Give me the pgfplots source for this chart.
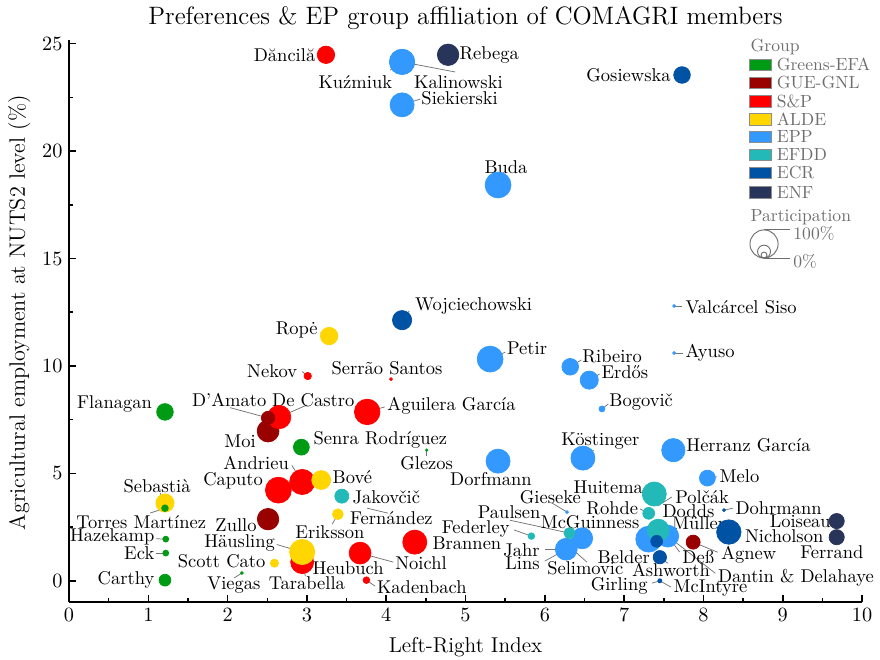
\documentclass[border=0pt]{standalone}
\usepackage{pgfplots}
\pgfplotsset{compat=1.18}

\definecolor{grn}{RGB}{0,155,20}
\definecolor{gue}{RGB}{153,0,0}
\definecolor{snp}{RGB}{255,0,0}
\definecolor{alde}{RGB}{255,214,0}
\definecolor{epp}{RGB}{51,153,255}
\definecolor{efdd}{RGB}{36,185,185}
\definecolor{ecr}{RGB}{0,82,165}
\definecolor{enf}{RGB}{40,52,90}
\definecolor{legtxt}{RGB}{110,110,110}

% name labels and leader lines, in data coordinates
\newcommand\lbl[4][center]{\node[anchor=#1,inner sep=0pt] at (axis cs:#2,#3) {#4};}
\newcommand\ldr[4]{\draw[black!55,line width=0.4pt] (axis cs:#1,#2) -- (axis cs:#3,#4);}
% legend text and one legend row: colour, text, y centre
\tikzset{legtext/.style={anchor=west,inner sep=0pt,text=legtxt,font=\fontsize{9.5}{11}\selectfont}}
\newcommand\legrow[3]{%
  \filldraw[fill=#1,draw=black!45,line width=0.3pt]
    (axis cs:8.575,#3-0.27) rectangle (axis cs:8.85,#3+0.27);
  \node[legtext] at (axis cs:8.92,#3) {#2};}

\begin{document}
\begin{tikzpicture}
\begin{axis}[scale only axis,width=428.6pt,height=303.8pt,
  xmin=0,xmax=10,ymin=-0.99,ymax=25.17,
  axis lines=left,axis line style={-,line width=0.9pt},
  tick align=inside,major tick length=3.8pt,minor tick length=2.2pt,
  every tick/.style={black,line width=0.8pt},
  xtick={0,...,10},ytick={0,5,...,25},minor x tick num=1,minor y tick num=1,
  tick label style={font=\fontsize{10.5}{12}\selectfont},
  clip=false]
\coordinate (bl) at (rel axis cs:0,0);
\coordinate (tr) at (rel axis cs:1,1);

% title and axis labels
\node[anchor=base,inner sep=0pt,font=\fontsize{13.6}{16}\selectfont]
  at ([yshift=8.6pt]rel axis cs:0.5,1) {Preferences \& EP group affiliation of COMAGRI members};
\node[anchor=base,inner sep=0pt,font=\fontsize{11.6}{14}\selectfont]
  at ([yshift=-27pt]rel axis cs:0.5,0) {Left-Right Index};
\node[anchor=base,rotate=90,inner sep=0pt,font=\fontsize{12}{14}\selectfont]
  at ([xshift=-23.8pt,yshift=4.5pt]rel axis cs:0,0.5) {Agricultural employment at NUTS2 level (\%)};

% leader lines first, bubbles drawn over them
\ldr{4.20}{24.15}{4.05}{23.77}
\ldr{4.20}{24.15}{4.87}{23.68}
\ldr{4.20}{22.15}{4.43}{22.42}
\ldr{5.41}{18.42}{5.50}{18.93}
\ldr{4.20}{12.13}{4.29}{12.56}
\ldr{3.28}{11.39}{3.17}{11.54}
\ldr{7.63}{12.79}{7.73}{12.79}
\ldr{7.63}{10.60}{7.74}{10.60}
\ldr{5.31}{10.32}{5.50}{10.64}
\ldr{6.32}{9.96}{6.46}{10.28}
\ldr{6.56}{9.34}{6.69}{9.62}
\ldr{6.72}{8.00}{6.80}{8.23}
\ldr{3.01}{9.53}{2.94}{9.74}
\ldr{2.51}{7.58}{2.03}{8.06}
\ldr{2.65}{7.62}{3.00}{8.18}
\ldr{3.76}{7.86}{3.98}{8.09}
\ldr{4.51}{6.08}{4.51}{5.80}
\ldr{6.48}{5.71}{6.62}{6.08}
\ldr{8.05}{4.78}{8.17}{4.84}
\ldr{2.94}{4.60}{2.81}{5.37}
\ldr{3.76}{3.38}{4.02}{3.15}
\ldr{3.39}{3.10}{3.32}{2.64}
\ldr{1.21}{3.62}{1.15}{4.08}
\ldr{1.21}{3.38}{1.02}{3.15}
\ldr{1.22}{1.94}{1.10}{1.96}
\ldr{1.22}{1.29}{1.10}{1.29}
\ldr{2.94}{1.34}{2.62}{1.69}
\ldr{2.18}{0.36}{2.08}{0.13}
\ldr{2.94}{0.87}{2.98}{0.22}
\ldr{3.67}{1.29}{4.09}{0.87}
\ldr{3.75}{0.03}{3.86}{-0.25}
\ldr{5.83}{2.08}{5.61}{2.37}
\ldr{6.31}{2.22}{5.56}{2.82}
\ldr{6.28}{3.20}{6.09}{3.62}
\ldr{6.27}{1.47}{6.00}{1.47}
\ldr{6.27}{1.47}{6.00}{0.92}
\ldr{6.40}{1.30}{6.53}{0.87}
\ldr{7.31}{3.14}{7.20}{3.35}
\ldr{7.43}{3.50}{7.60}{3.90}
\ldr{7.55}{2.08}{7.70}{1.34}
\ldr{7.45}{1.10}{7.55}{0.82}
\ldr{7.45}{0.00}{7.35}{-0.11}
\ldr{7.45}{0.00}{7.59}{-0.29}
\ldr{7.87}{1.80}{8.18}{1.33}
\ldr{7.55}{2.08}{8.15}{0.35}
\ldr{8.26}{3.29}{8.37}{3.38}
\ldr{9.68}{2.03}{9.66}{1.66}

\addplot[scatter,only marks,scatter src=explicit symbolic,
  scatter/classes={GRN={mark=*,grn},GUE={mark=*,gue},SP={mark=*,snp},
    ALDE={mark=*,alde},EPP={mark=*,epp},EFDD={mark=*,efdd},
    ECR={mark=*,ecr},ENF={mark=*,enf}},
  visualization depends on={\thisrow{r}\as\rad},
  scatter/@pre marker code/.append style={/tikz/mark size=\rad pt}]
table[x=x,y=y,meta=g]{
x y r g
5.41 18.42 7.0 EPP
5.31 10.32 7.0 EPP
2.64 4.22 7.0 SP
7.31 1.94 7.0 EPP
3.76 7.86 6.9 SP
4.20 24.15 6.8 EPP
4.20 24.15 6.8 EPP
2.94 4.60 6.8 SP
2.94 0.87 6.2 SP
2.94 1.34 6.8 ALDE
8.32 2.27 6.6 ECR
4.20 22.15 6.5 EPP
5.41 5.57 6.5 EPP
6.48 5.71 6.5 EPP
4.36 1.80 6.5 SP
7.38 4.04 6.5 EFDD
2.51 6.97 5.9 GUE
2.65 7.62 6.3 SP
7.62 6.08 6.3 EPP
6.27 1.47 5.9 EPP
7.55 2.08 5.9 EPP
3.67 1.29 5.9 SP
7.43 2.36 5.9 EFDD
4.78 24.48 5.8 ENF
2.51 2.87 5.8 GUE
6.47 1.98 5.7 EPP
4.20 12.13 5.2 ECR
3.18 4.69 5.1 ALDE
6.56 9.34 4.9 EPP
1.21 3.62 4.9 ALDE
3.24 24.48 4.7 SP
3.28 11.39 4.7 ALDE
7.73 23.54 4.5 ECR
6.32 9.96 4.5 EPP
1.21 7.86 4.5 GRN
2.93 6.22 4.3 GRN
8.05 4.78 4.3 EPP
9.68 2.78 4.1 ENF
9.68 2.03 4.1 ENF
3.44 3.94 3.8 EFDD
7.87 1.80 3.8 GUE
2.51 7.58 3.6 GUE
7.45 1.10 3.6 ECR
1.21 0.03 3.2 GRN
7.31 3.14 3.2 EFDD
7.41 1.84 3.2 ECR
6.31 2.22 3.0 EFDD
3.39 3.10 2.9 ALDE
2.59 0.82 2.2 ALDE
3.01 9.53 2.0 SP
1.21 3.38 1.8 GRN
3.75 0.03 1.8 SP
5.83 2.08 1.8 EFDD
6.72 8.00 1.6 EPP
1.22 1.94 1.6 GRN
1.22 1.29 1.6 GRN
7.45 0.00 1.1 ECR
7.63 12.79 0.8 EPP
7.63 10.60 0.8 EPP
4.06 9.39 0.8 SP
6.28 3.20 0.8 EPP
2.18 0.36 0.8 GRN
8.26 3.29 0.8 ECR
4.51 6.08 0.7 GRN
};

% names
\lbl[east]{3.11}{24.48}{Dăncilă}
\lbl[west]{4.92}{24.48}{Rebega}
\lbl{3.61}{23.22}{Kuźmiuk}
\lbl{4.91}{23.22}{Kalinowski}
\lbl[west]{4.44}{22.47}{Siekierski}
\lbl[east]{7.59}{23.54}{Gosiewska}
\lbl{5.51}{19.26}{Buda}
\lbl[west]{4.36}{12.78}{Wojciechowski}
\lbl[east]{3.14}{11.66}{Ropė}
\lbl[west]{7.77}{12.74}{Valcárcel Siso}
\lbl[west]{7.77}{10.60}{Ayuso}
\lbl[west]{5.52}{10.83}{Petir}
\lbl[west]{6.47}{10.46}{Ribeiro}
\lbl[west]{6.71}{9.72}{Erdős}
\lbl[west]{6.81}{8.32}{Bogovič}
\lbl[east]{2.88}{9.76}{Nekov}
\lbl{4.01}{9.90}{Serrão Santos}
\lbl[east]{1.05}{8.22}{Flanagan}
\lbl{2.02}{8.41}{D’Amato}
\lbl{3.08}{8.41}{De Castro}
\lbl[east]{2.36}{6.50}{Moi}
\lbl[west]{4.01}{8.13}{Aguilera García}
\lbl[west]{3.08}{6.55}{Senra Rodríguez}
\lbl{4.51}{5.48}{Glezos}
\lbl{5.32}{4.73}{Dorfmann}
\lbl{6.70}{6.50}{Köstinger}
\lbl[west]{7.78}{6.31}{Herranz García}
\lbl[west]{8.20}{4.87}{Melo}
\lbl{6.80}{4.36}{Huitema}
\lbl{2.36}{5.48}{Andrieu}
\lbl[east]{2.45}{4.67}{Caputo}
\lbl[west]{3.32}{4.83}{Bové}
\lbl[west]{3.57}{3.89}{Jakovčič}
\lbl[west]{3.54}{2.92}{Fernández}
\lbl{3.29}{2.26}{Eriksson}
\lbl{1.11}{4.41}{Sebastià}
\lbl{0.91}{2.73}{Torres Martínez}
\lbl[east]{1.08}{2.03}{Hazekamp}
\lbl[east]{1.08}{1.28}{Eck}
\lbl[east]{1.08}{0.03}{Carthy}
\lbl[east]{2.37}{2.59}{Zullo}
\lbl[east]{2.60}{1.75}{Häusling}
\lbl[east]{2.48}{0.92}{Scott Cato}
\lbl{2.08}{-0.20}{Viegas}
\lbl{3.00}{-0.11}{Tarabella}
\lbl{3.52}{0.59}{Heubuch}
\lbl[west]{4.11}{0.83}{Noichl}
\lbl[west]{3.88}{-0.29}{Kadenbach}
\lbl[west]{4.58}{1.75}{Brannen}
\lbl[east]{5.56}{2.41}{Federley}
\lbl{5.55}{3.19}{Paulsen}
\lbl{6.07}{3.89}{Gieseke}
\lbl{6.57}{2.73}{McGuinness}
\lbl[east]{5.94}{1.43}{Jahr}
\lbl[east]{5.94}{0.82}{Lins}
\lbl{6.51}{0.59}{Selimovic}
\lbl[east]{7.18}{3.38}{Rohde}
\lbl[west]{7.64}{3.90}{Polčák}
\lbl[west]{7.48}{3.24}{Dodds}
\lbl[west]{7.60}{2.69}{Müller}
\lbl[east]{7.33}{1.10}{Belder}
\lbl[west]{7.73}{1.10}{Deß}
\lbl{7.59}{0.50}{Ashworth}
\lbl[east]{7.30}{-0.25}{Girling}
\lbl[west]{7.62}{-0.34}{McIntyre}
\lbl[west]{8.22}{1.19}{Agnew}
\lbl[west]{8.18}{0.13}{Dantin \& Delahaye}
\lbl[west]{8.52}{2.08}{Nicholson}
\lbl[west]{8.40}{3.40}{Dohrmann}
\lbl[east]{9.61}{2.78}{Loiseau}
\lbl{9.62}{1.34}{Ferrand}

% legend
\node[legtext] at (axis cs:8.59,24.85) {Group};
\legrow{grn}{Greens-EFA}{24.01}
\legrow{gue}{GUE-GNL}{23.17}
\legrow{snp}{S\&P}{22.33}
\legrow{alde}{ALDE}{21.49}
\legrow{epp}{EPP}{20.66}
\legrow{efdd}{EFDD}{19.82}
\legrow{ecr}{ECR}{18.98}
\legrow{enf}{ENF}{18.09}
\node[legtext] at (axis cs:8.59,16.93) {Participation};
\draw[legtxt,line width=0.5pt] (axis cs:8.764,15.675) circle[radius=7.6pt];
\draw[legtxt,line width=0.5pt] (axis cs:8.764,15.32) circle[radius=3.5pt];
\draw[legtxt,line width=0.5pt] (axis cs:8.764,15.16) circle[radius=1.6pt];
\draw[legtxt,line width=0.5pt] (axis cs:8.764,16.33) -- (axis cs:9.09,16.33);
\draw[legtxt,line width=0.5pt] (axis cs:8.764,15.02) -- (axis cs:9.09,15.02);
\node[legtext] at (axis cs:9.13,16.18) {100\%};
\node[legtext] at (axis cs:9.13,14.85) {0\%};
\end{axis}
\pgfresetboundingbox
\path[use as bounding box] ([xshift=-37.3pt,yshift=-30.8pt]bl) rectangle ([xshift=9.7pt,yshift=21.6pt]tr);
\end{tikzpicture}
\end{document}
